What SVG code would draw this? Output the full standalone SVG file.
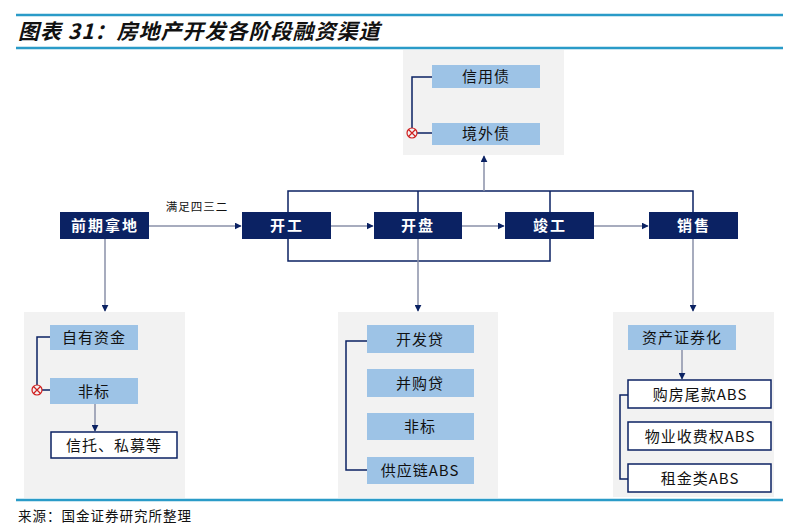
<svg xmlns="http://www.w3.org/2000/svg" width="800" height="531" viewBox="0 0 800 531">
<defs>
<style>
.t{font-family:"Noto Sans CJK SC","Liberation Sans",sans-serif;}
.main rect{fill:#0b2263;}
.main text{fill:#ffffff;font-size:15px;font-weight:bold;text-anchor:middle;letter-spacing:2px;}
.lb rect{fill:#9dc3e6;}
.lb text,.ob text{fill:#111;font-size:15px;text-anchor:middle;letter-spacing:1px;}
.ob rect{fill:#ffffff;stroke:#0b2263;stroke-width:1.5;}
.panel{fill:#f2f2f2;}
.nv{fill:none;stroke:#0b2263;stroke-width:1.5;}
.gr{fill:none;stroke:#8a90a8;stroke-width:1.5;}
.xm circle{fill:none;stroke:#d02020;stroke-width:1.2;}
.xm path{stroke:#d02020;stroke-width:1.2;}
</style>
<marker id="ah" viewBox="0 0 10 10" refX="9" refY="5" markerWidth="7" markerHeight="7" orient="auto" markerUnits="userSpaceOnUse">
<path d="M0,0 L10,5 L0,10 z" fill="#0b2263"/>
</marker>
</defs>
<rect width="800" height="531" fill="#ffffff"/>
<!-- title -->
<line x1="16" y1="15" x2="783" y2="15" stroke="#2a9bc8" stroke-width="2.5"/>
<text class="t" x="18" y="39" font-size="21" font-weight="bold" font-style="italic" fill="#111" letter-spacing="1">图表 31：房地产开发各阶段融资渠道</text>
<line x1="16" y1="48" x2="783" y2="48" stroke="#2a9bc8" stroke-width="2.5"/>

<!-- panels -->
<rect class="panel" x="403" y="50" width="161" height="105"/>
<rect class="panel" x="24" y="312" width="161" height="186"/>
<rect class="panel" x="338" y="312" width="160" height="186"/>
<rect class="panel" x="613" y="312" width="161" height="185"/>

<g id="connectors">
<!-- main flow -->
<line class="gr" x1="149" y1="226" x2="241" y2="226" marker-end="url(#ah)"/>
<line class="gr" x1="331" y1="226" x2="373" y2="226" marker-end="url(#ah)"/>
<line class="gr" x1="462" y1="226" x2="504" y2="226" marker-end="url(#ah)"/>
<line class="gr" x1="594" y1="226" x2="648" y2="226" marker-end="url(#ah)"/>
<!-- loop -->
<polyline class="nv" points="288,212 288,191 693,191 693,212"/>
<line class="nv" x1="418" y1="191" x2="418" y2="212"/>
<line class="nv" x1="550" y1="191" x2="550" y2="212"/>
<polyline class="nv" points="288,239 288,261 550,261 550,239"/>
<line class="gr" x1="484" y1="191" x2="484" y2="156" marker-end="url(#ah)"/>
<!-- down arrows -->
<line class="gr" x1="105" y1="239" x2="105" y2="311" marker-end="url(#ah)"/>
<line class="gr" x1="418" y1="239" x2="418" y2="311" marker-end="url(#ah)"/>
<line class="gr" x1="693" y1="239" x2="693" y2="311" marker-end="url(#ah)"/>
<!-- top panel -->
<polyline class="nv" points="432,77 412,77 412,128"/>
<line class="nv" x1="417" y1="133" x2="432" y2="133"/>
<!-- panel 1 -->
<polyline class="nv" points="50,337 37,337 37,385"/>
<line class="nv" x1="42" y1="390" x2="50" y2="390"/>
<line class="gr" x1="95" y1="404" x2="95" y2="431" marker-end="url(#ah)"/>
<!-- panel 2 -->
<polyline class="nv" points="367,341 346,341 346,470 367,470"/>
<!-- panel 3 -->
<line class="gr" x1="682" y1="350" x2="682" y2="379" marker-end="url(#ah)"/>
<polyline class="nv" points="628,395 620,395 620,479 628,479"/>
<text class="t" x="197" y="211" font-size="11.5" fill="#111" text-anchor="middle" letter-spacing="1">满足四三二</text>
</g>

<g class="xm" id="xmark1"><circle cx="412" cy="133" r="5"/><path d="M408.5,129.5 L415.5,136.5 M415.5,129.5 L408.5,136.5"/></g>
<g class="xm" id="xmark2"><circle cx="37" cy="390" r="5"/><path d="M33.5,386.5 L40.5,393.5 M40.5,386.5 L33.5,393.5"/></g>

<!-- main nodes -->
<g id="n-qiqi" class="main t"><rect x="60" y="212" width="89" height="27"/><text x="105" y="231">前期拿地</text></g>
<g id="n-kaigong" class="main t"><rect x="242" y="212" width="89" height="27"/><text x="287" y="231">开工</text></g>
<g id="n-kaipan" class="main t"><rect x="374" y="212" width="88" height="27"/><text x="418" y="231">开盘</text></g>
<g id="n-jungong" class="main t"><rect x="505" y="212" width="89" height="27"/><text x="550" y="231">竣工</text></g>
<g id="n-xiaoshou" class="main t"><rect x="649" y="212" width="89" height="27"/><text x="694" y="231">销售</text></g>

<!-- top panel nodes -->
<g id="n-xinyongzhai" class="lb t"><rect x="432" y="65" width="108" height="23"/><text x="486" y="82">信用债</text></g>
<g id="n-jingwaizhai" class="lb t"><rect x="432" y="123" width="108" height="22"/><text x="486" y="139">境外债</text></g>

<!-- panel 1 -->
<g id="n-ziyou" class="lb t"><rect x="50" y="325" width="88" height="25"/><text x="94" y="343">自有资金</text></g>
<g id="n-feibiao1" class="lb t"><rect x="50" y="378" width="88" height="26"/><text x="94" y="397">非标</text></g>
<g id="n-xintuo" class="ob t"><rect x="51" y="432" width="126" height="26"/><text x="114" y="451">信托、私募等</text></g>

<!-- panel 2 -->
<g id="n-kaifadai" class="lb t"><rect x="367" y="325" width="107" height="28"/><text x="420" y="345">开发贷</text></g>
<g id="n-binggoudai" class="lb t"><rect x="367" y="369" width="107" height="28"/><text x="420" y="389">并购贷</text></g>
<g id="n-feibiao2" class="lb t"><rect x="367" y="413" width="107" height="27"/><text x="420" y="432">非标</text></g>
<g id="n-gongyinglian" class="lb t"><rect x="367" y="457" width="107" height="27"/><text x="420" y="476">供应链ABS</text></g>

<!-- panel 3 -->
<g id="n-zichan" class="lb t"><rect x="628" y="325" width="108" height="25"/><text x="682" y="343">资产证券化</text></g>
<g id="n-goufang" class="ob t"><rect x="628" y="380" width="143" height="28"/><text x="700" y="400">购房尾款ABS</text></g>
<g id="n-wuye" class="ob t"><rect x="628" y="422" width="143" height="28"/><text x="700" y="442">物业收费权ABS</text></g>
<g id="n-zujin" class="ob t"><rect x="628" y="464" width="143" height="28"/><text x="700" y="484">租金类ABS</text></g>

<!-- footer -->
<line x1="16" y1="500" x2="783" y2="500" stroke="#2a9bc8" stroke-width="2.5"/>
<text class="t" x="18" y="521" font-size="13.5" fill="#111" letter-spacing="1">来源：国金证券研究所整理</text>
</svg>
